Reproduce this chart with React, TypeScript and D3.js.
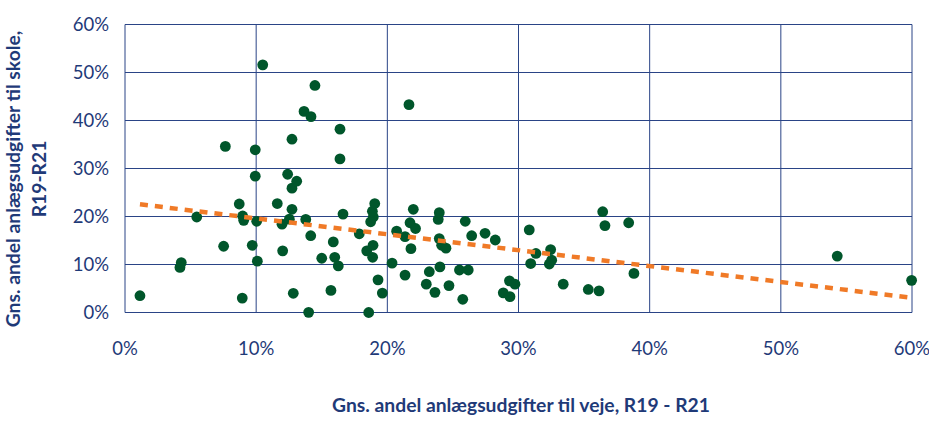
import React from "react";
import * as d3 from "d3";

// x = Gns. andel anlægsudgifter til veje (%), y = Gns. andel anlægsudgifter til skole (%)
const roadShare: number[] = [
  1.14, 4.29, 4.19, 5.47, 7.65, 7.52, 8.71, 8.97, 9.05, 8.94,
  9.70, 9.93, 9.93, 10.04, 10.09, 10.50, 11.61, 11.97, 12.02, 12.40,
  12.73, 13.09, 12.73, 12.53, 12.73, 12.83, 13.78, 13.65, 14.18, 14.48,
  14.0, 14.16, 15.0, 15.7, 15.88, 15.99, 16.26, 16.39, 16.39, 16.62,
  17.86, 18.43, 18.58, 18.88, 18.91, 18.73, 18.93, 18.86, 19.04, 19.29,
  19.62, 20.36, 20.71, 21.35, 21.35, 21.65, 21.73, 21.80, 21.98, 22.15,
  22.97, 23.2, 23.63, 23.88, 23.96, 23.96, 24.01, 24.14, 24.47, 24.70,
  25.5, 26.17, 25.75, 25.94, 26.43, 27.45, 28.23, 28.84, 29.35, 29.31,
  29.73, 30.82, 30.93, 31.33, 32.45, 32.53, 32.35, 33.41, 35.32, 36.14,
  36.42, 36.59, 38.40, 38.80, 54.30, 59.97,
];
const schoolShare: number[] = [
  3.5, 10.4, 9.4, 19.9, 34.6, 13.8, 22.6, 20.1, 19.2, 3.0,
  14.0, 33.9, 28.4, 19.0, 10.7, 51.6, 22.7, 18.4, 12.85, 28.8,
  25.9, 27.35, 21.5, 19.45, 36.1, 4.0, 19.4, 41.9, 40.8, 47.3,
  0.04, 16.0, 11.3, 4.6, 14.7, 11.5, 9.7, 38.2, 32.0, 20.5,
  16.4, 12.85, 0.0, 11.5, 14.0, 18.9, 19.9, 21.1, 22.7, 6.8,
  4.05, 10.3, 16.95, 15.8, 7.8, 43.3, 18.7, 13.3, 21.5, 17.5,
  5.9, 8.5, 4.2, 19.4, 20.8, 15.4, 9.5, 14.0, 13.4, 5.6,
  8.85, 8.85, 2.75, 19.0, 16.0, 16.5, 15.1, 4.1, 3.3, 6.6,
  5.9, 17.2, 10.2, 12.3, 13.1, 10.9, 10.1, 5.9, 4.8, 4.5,
  21.0, 18.1, 18.7, 8.15, 11.75, 6.7,
];
const xTicks: number[] = [0, 10, 20, 30, 40, 50, 60];
const yTicks: number[] = [0, 10, 20, 30, 40, 50, 60];
const xTitle = "Gns. andel anlægsudgifter til veje, R19 - R21";
const yTitleLines = ["Gns. andel anlægsudgifter til skole,", "R19-R21"];

const NAVY = "#1f3a78";
const GRID = "#2a4486";
const DOT = "#00562b";
const ORANGE = "#f07a27";
const FONT = "Lato, 'Open Sans', sans-serif";

export default function App() {
  const W = 929, H = 421;
  const left = 125, right = 912, top = 24.5, bottom = 312.5;
  const x = d3.scaleLinear().domain([0, 60]).range([left, right]);
  const y = d3.scaleLinear().domain([0, 60]).range([bottom, top]);

  const pts = roadShare.map((v, i) => [v, schoolShare[i]] as [number, number]);
  // least squares trend line (Excel linear trendline)
  const mx = d3.mean(pts, (p) => p[0])!;
  const my = d3.mean(pts, (p) => p[1])!;
  const sxy = d3.sum(pts, (p) => (p[0] - mx) * (p[1] - my));
  const sxx = d3.sum(pts, (p) => (p[0] - mx) ** 2);
  const slope = sxy / sxx;
  const icpt = my - slope * mx;
  const [xmin, xmax] = d3.extent(roadShare) as [number, number];
  const trend = d3.line<number>().x((v) => x(v)).y((v) => y(icpt + slope * v));

  return (
    <svg width={W} height={H} style={{ position: "absolute", left: 0, top: 0, background: "#fff" }}>
      {/* grid */}
      {yTicks.map((t) => (
        <line key={"h" + t} x1={left} x2={right} y1={y(t)} y2={y(t)} stroke={GRID} strokeWidth={1} />
      ))}
      {xTicks.map((t) => (
        <line key={"v" + t} x1={x(t)} x2={x(t)} y1={top} y2={bottom} stroke={GRID} strokeWidth={1} />
      ))}
      {/* points */}
      {pts.map((p, i) => (
        <circle key={i} cx={x(p[0])} cy={y(p[1])} r={5.4} fill={DOT} />
      ))}
      {/* trend */}
      <path d={trend([xmin, xmax]) || ""} fill="none" stroke={ORANGE} strokeWidth={4.5} strokeDasharray="8 7" />
      {/* tick labels */}
      {yTicks.map((t) => (
        <text key={"yl" + t} x={109} y={y(t) + 6.5} textAnchor="end" fontFamily={FONT} fontSize={18.5} fill={NAVY}>
          {t}%
        </text>
      ))}
      {xTicks.map((t) => (
        <text key={"xl" + t} x={x(t)} y={355} textAnchor="middle" fontFamily={FONT} fontSize={18.5} fill={NAVY}>
          {t}%
        </text>
      ))}
      {/* axis titles */}
      <text x={521} y={412} textAnchor="middle" fontFamily={FONT} fontSize={19.3} fontWeight="bold" fill={NAVY}>
        {xTitle}
      </text>
      <g transform="translate(0,179) rotate(-90)">
        <text x={0} y={20} textAnchor="middle" fontFamily={FONT} fontSize={19.3} fontWeight="bold" fill={NAVY}>
          {yTitleLines[0]}
        </text>
        <text x={0} y={46} textAnchor="middle" fontFamily={FONT} fontSize={19.3} fontWeight="bold" fill={NAVY}>
          {yTitleLines[1]}
        </text>
      </g>
    </svg>
  );
}
